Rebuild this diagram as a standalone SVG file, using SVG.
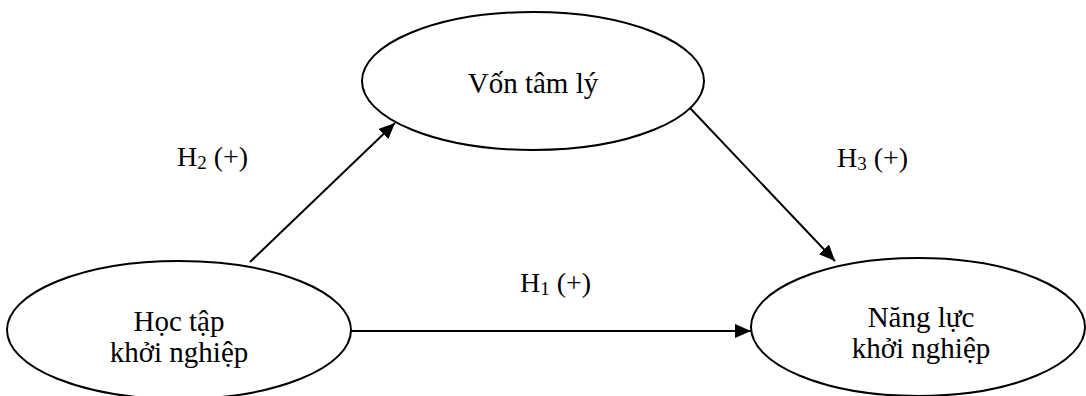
<svg xmlns="http://www.w3.org/2000/svg" width="1086" height="396" viewBox="0 0 1086 396">
  <style>
    .node { fill: #ffffff; stroke: #000000; stroke-width: 2; }
    .txt { font-family: "Liberation Serif", "Times New Roman", serif; font-size: 29px; fill: #000000; }
    .lbl { font-family: "Liberation Serif", "Times New Roman", serif; font-size: 28px; fill: #000000; }
    .sub { font-size: 19px; }
    .edge { stroke: #000000; stroke-width: 2; fill: none; }
  </style>
  <defs>
    <marker id="arrow" markerUnits="userSpaceOnUse" markerWidth="17" markerHeight="14" refX="16" refY="7" orient="auto">
      <path d="M0,0 L16,7 L0,14 z" fill="#000000"/>
    </marker>
  </defs>
  <rect x="0" y="0" width="1086" height="396" fill="#ffffff"/>

  <g id="connectors">
    <line class="edge" x1="250" y1="262" x2="395" y2="123" marker-end="url(#arrow)"/>
    <line class="edge" x1="690" y1="108" x2="835" y2="261" marker-end="url(#arrow)"/>
    <line class="edge" x1="351" y1="331" x2="751" y2="331" marker-end="url(#arrow)"/>
    <text class="lbl" x="177" y="166">H<tspan class="sub" dy="3">2</tspan><tspan dy="-3"> (+)</tspan></text>
    <text class="lbl" x="520" y="292">H<tspan class="sub" dy="3">1</tspan><tspan dy="-3"> (+)</tspan></text>
    <text class="lbl" x="837" y="167">H<tspan class="sub" dy="3">3</tspan><tspan dy="-3"> (+)</tspan></text>
  </g>

  <g id="von-tam-ly">
    <ellipse class="node" cx="533" cy="81" rx="171" ry="69"/>
    <text class="txt" x="533" y="93" text-anchor="middle">Vốn tâm lý</text>
  </g>

  <g id="hoc-tap">
    <ellipse class="node" cx="179" cy="330" rx="172" ry="69"/>
    <text class="txt" x="179" y="331" text-anchor="middle">Học tập</text>
    <text class="txt" x="179" y="362" text-anchor="middle">khởi nghiệp</text>
  </g>

  <g id="nang-luc">
    <ellipse class="node" cx="918" cy="327" rx="167" ry="69"/>
    <text class="txt" x="921" y="327" text-anchor="middle">Năng lực</text>
    <text class="txt" x="921" y="358" text-anchor="middle">khởi nghiệp</text>
  </g>
</svg>
